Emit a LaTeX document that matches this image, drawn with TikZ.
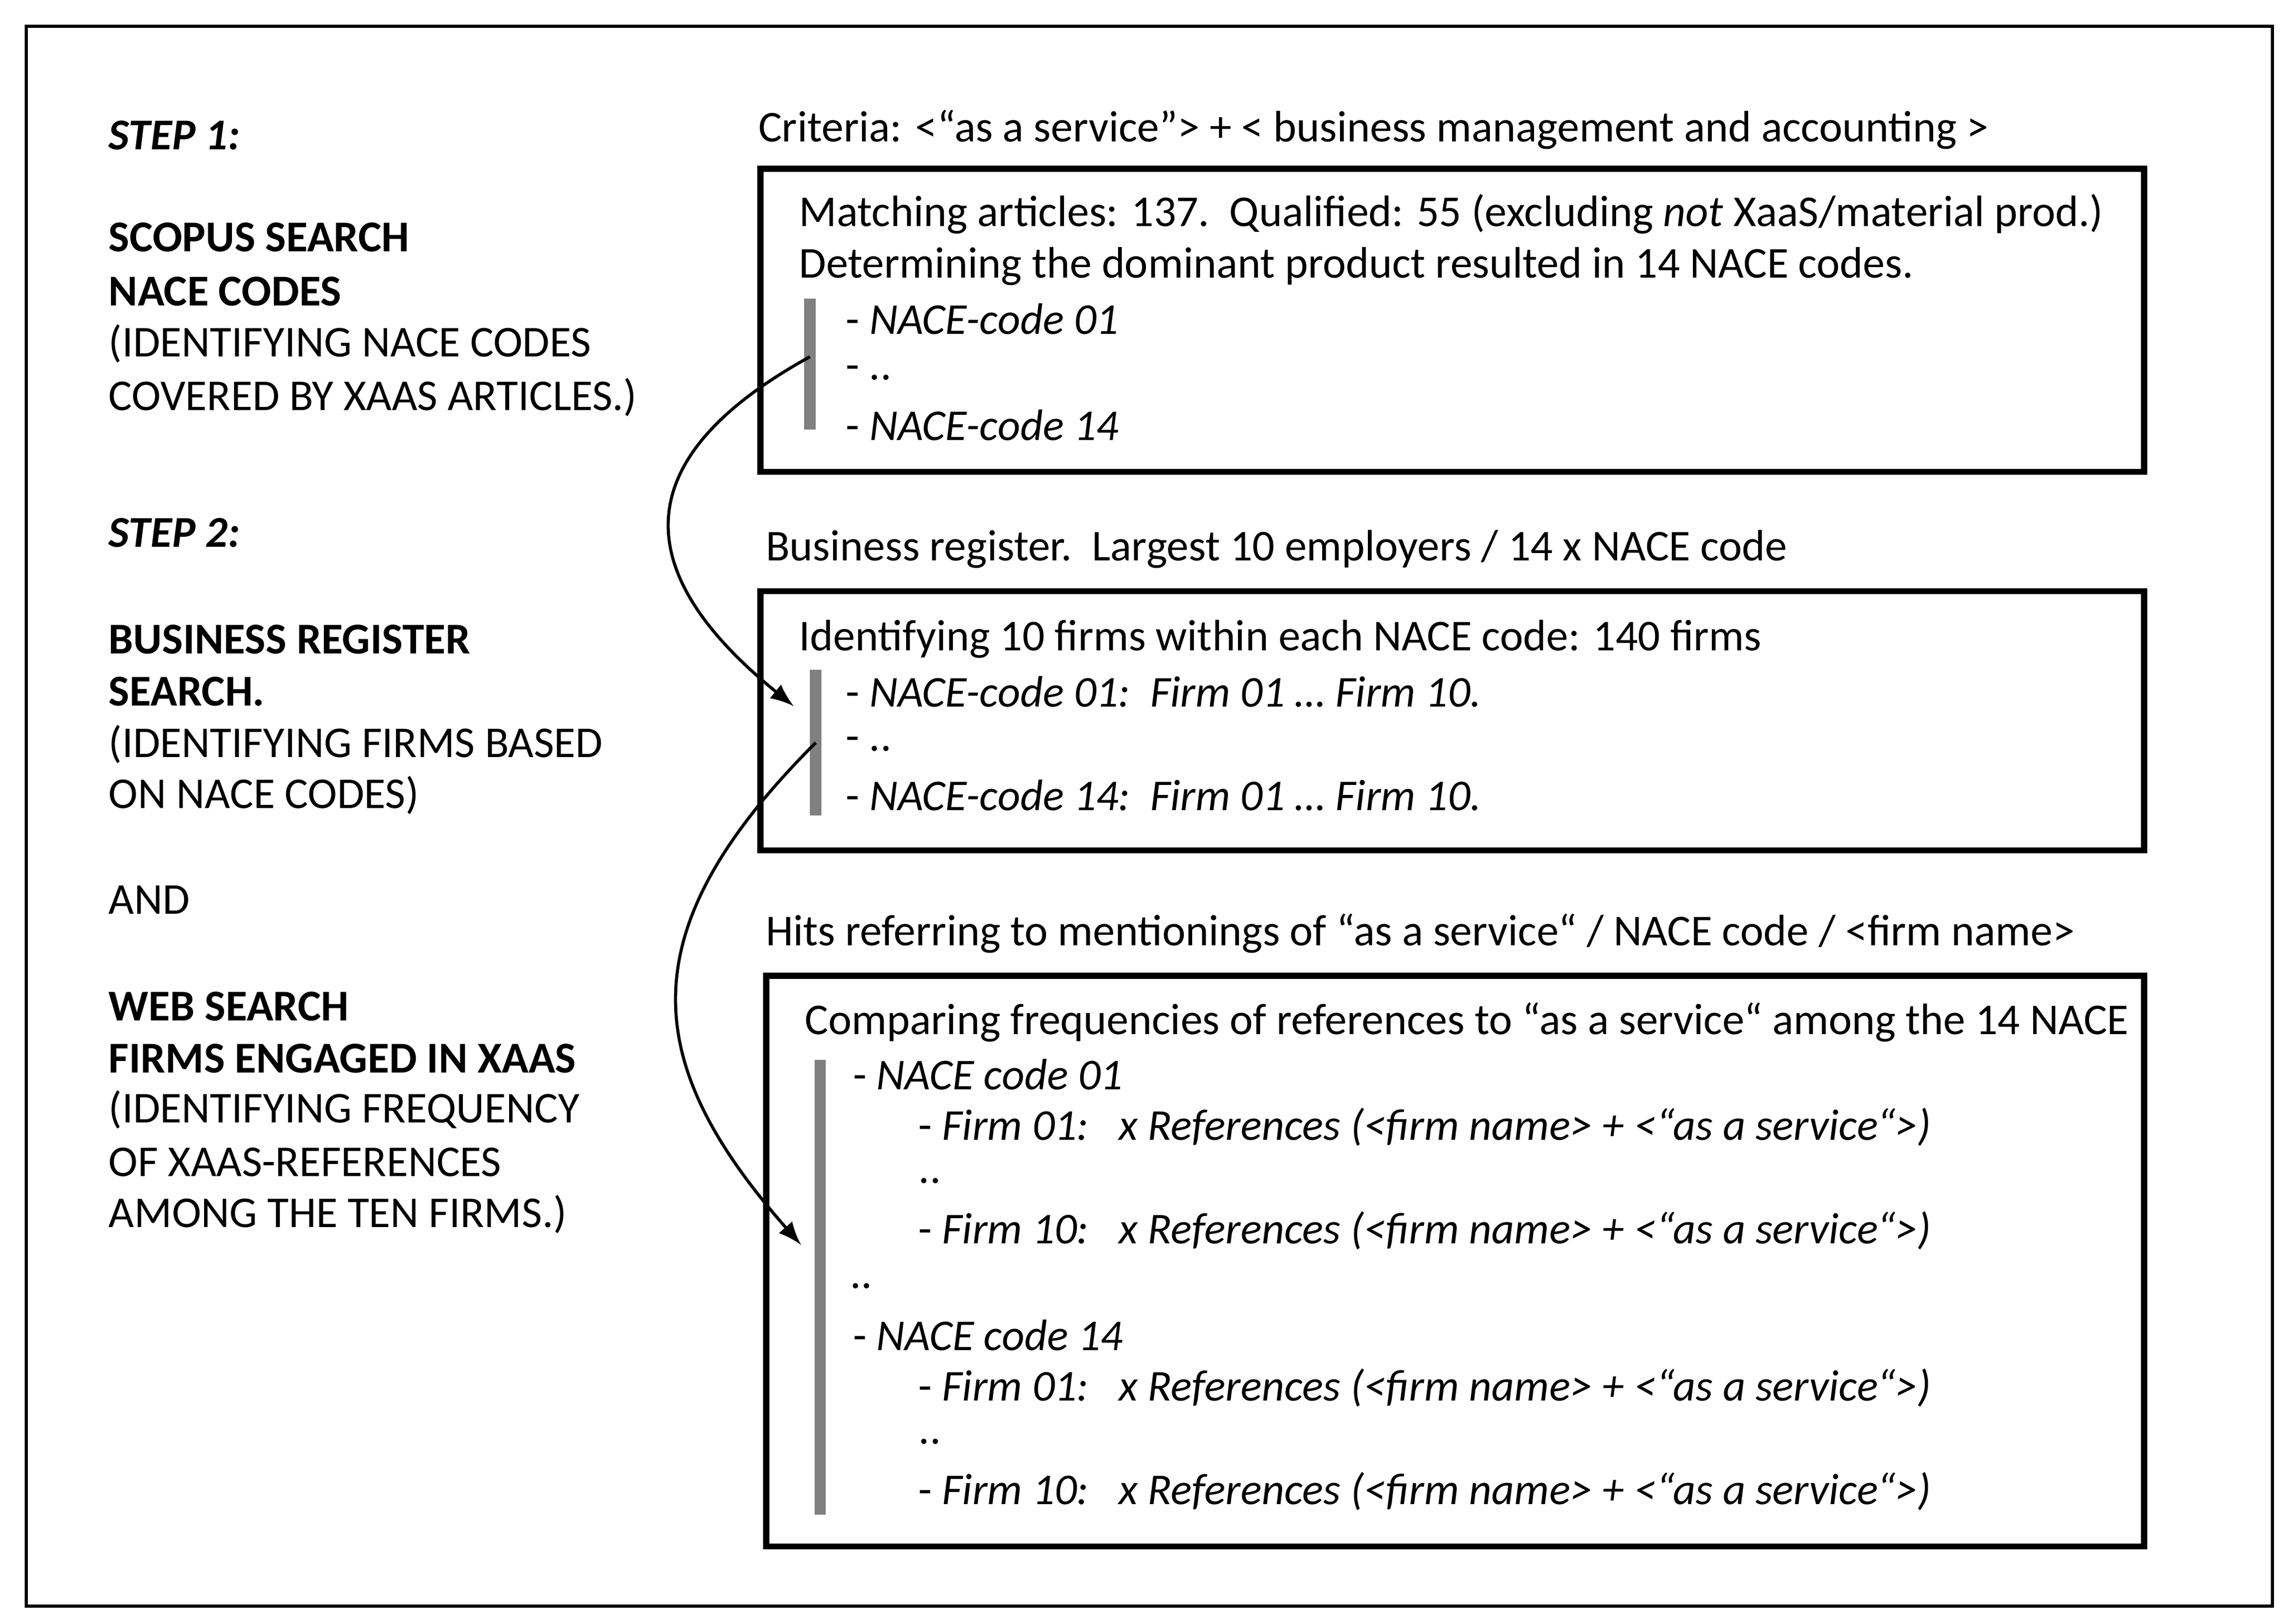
\documentclass[tikz,border=0pt]{standalone}
\usepackage{fontspec}
\setmainfont{Carlito}
\begin{document}
\begin{tikzpicture}[x=0.01cm,y=-0.01cm,
 t/.style={anchor=west,inner sep=0pt,font=\fontsize{8.6}{10}\selectfont},
 box/.style={draw,line width=1.2pt},
 bar/.style={draw=gray,line width=2.2pt},
 arr/.style={->,>=latex,line width=0.6pt}]
\useasboundingbox (0,0) rectangle (1568,1115);
\draw[line width=0.6pt] (18,18) rectangle (1560,1103);
\draw[box] (522,116) rectangle (1472,324);
\draw[box] (522,406) rectangle (1472,584);
\draw[box] (526,670) rectangle (1472,1062);
\draw[bar] (556,205) -- (556,295);
\draw[bar] (560,460) -- (560,560);
\draw[bar] (563,728) -- (563,1040);
\coordinate (a1) at (556,245); \coordinate (b1) at (545,485);
\coordinate (a2) at (560,510); \coordinate (b2) at (550,855);
\draw[arr] (a1) .. controls (420,320) and (440,400) .. (b1);
\draw[arr] (a2) .. controls (430,640) and (440,730) .. (b2);
% left
\node[t] (l1) at (74,93) {\textbf{\textit{STEP 1:}}};
\node[t] (l2) at (74,163) {\textbf{SCOPUS SEARCH}};
\node[t] (l3) at (74,200) {\textbf{NACE CODES}};
\node[t] (l4) at (74,236) {(IDENTIFYING NACE CODES};
\node[t] (l5) at (74,273) {COVERED BY XAAS ARTICLES.)};
\node[t] (l6) at (74,366) {\textbf{\textit{STEP 2:}}};
\node[t] (l7) at (74,439) {\textbf{BUSINESS REGISTER}};
\node[t] (l8) at (74,475) {\textbf{SEARCH.}};
\node[t] (l9) at (74,511) {(IDENTIFYING FIRMS BASED};
\node[t] (l10) at (74,546) {ON NACE CODES)};
\node[t] (l11) at (74,618) {AND};
\node[t] (l12) at (74,691) {\textbf{WEB SEARCH}};
\node[t] (l13) at (74,727) {\textbf{FIRMS ENGAGED IN XAAS}};
\node[t] (l14) at (74,762) {(IDENTIFYING FREQUENCY};
\node[t] (l15) at (74,798) {OF XAAS-REFERENCES};
\node[t] (l16) at (74,834) {AMONG THE TEN FIRMS.)};
% right
\node[t] (c1) at (520,89) {Criteria: <“as a service”> + < business management and accounting >};
\node[t] (m1) at (548,147) {Matching articles: 137.\ \ Qualified: 55 (excluding \textit{not} XaaS/material prod.)};
\node[t] (m2) at (548,183) {Determining the dominant product resulted in 14 NACE codes.};
\node[t] (m3) at (580,219) {- \textit{NACE-code 01}};
\node[t] (m4) at (580,256) {- ..};
\node[t] (m5) at (580,292) {- \textit{NACE-code 14}};
\node[t] (c2) at (525,377) {Business register.\ \ Largest 10 employers / 14 x NACE code};
\node[t] (n1) at (548,439) {Identifying 10 firms within each NACE code: 140 firms};
\node[t] (n2) at (580,475) {- \textit{NACE-code 01:\ \ Firm 01 … Firm 10.}};
\node[t] (n3) at (580,511) {- ..};
\node[t] (n4) at (580,546) {- \textit{NACE-code 14:\ \ Firm 01 … Firm 10.}};
\node[t] (c3) at (525,641) {Hits referring to mentionings of “as a service“ / NACE code / <firm name>};
\node[t] (h1) at (552,702) {Comparing frequencies of references to “as a service“ among the 14 NACE};
\node[t] (h2) at (585,738) {- \textit{NACE code 01}};
\node[t] (h3) at (630,774) {- \textit{Firm 01:\ \ \ x References (<firm name> + <“as a service“>)}};
\node[t] (h4) at (630,811) {..};
\node[t] (h5) at (630,845) {- \textit{Firm 10:\ \ \ x References (<firm name> + <“as a service“>)}};
\node[t] (h6) at (583,883) {..};
\node[t] (h7) at (585,917) {- \textit{NACE code 14}};
\node[t] (h8) at (630,953) {- \textit{Firm 01:\ \ \ x References (<firm name> + <“as a service“>)}};
\node[t] (h9) at (630,990) {..};
\node[t] (h10) at (630,1024) {- \textit{Firm 10:\ \ \ x References (<firm name> + <“as a service“>)}};
\end{tikzpicture}
\end{document}
